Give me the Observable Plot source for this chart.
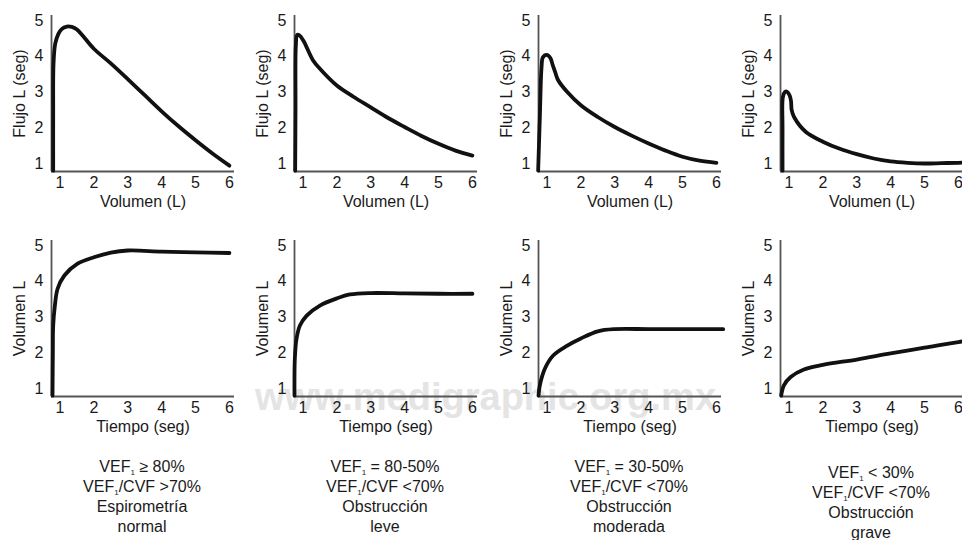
<!DOCTYPE html>
<html>
<head>
<meta charset="utf-8">
<script src="https://cdn.jsdelivr.net/npm/d3@7"></script>
<script src="https://cdn.jsdelivr.net/npm/@observablehq/plot@0.6"></script>
<style>
  html, body { margin: 0; padding: 0; background: #fff; }
  #root { position: relative; width: 962px; height: 540px; overflow: hidden; font-family: "Liberation Sans", Arial, sans-serif; }
  .panel { position: absolute; width: 243px; height: 215px; }
  .panel svg { max-width: none !important; }
  .caption { position: absolute; width: 240px; text-align: center; font-size: 16px; line-height: 20px; color: #1a1a1a; }
  .caption sub { font-size: 8px; vertical-align: -3px; line-height: 0; }
  .wm { position: absolute; left: 255px; top: 376px; font-size: 38px; font-weight: bold; color: #e4e4e4; white-space: nowrap; }
</style>
</head>
<body>
<div id="root">
  <div class="wm">www.medigraphic.org.mx</div>
</div>
<script>
// ---- Data ----
const xTicks = [1, 2, 3, 4, 5, 6];
const yTicks = [1, 2, 3, 4, 5];

// Flow–volume curves (x: Volumen L, y: Flujo L/seg)
const flowNormal = [[0.80,0.80],[0.80,2.4],[0.81,3.8],[0.86,4.35],[0.95,4.62],[1.05,4.76],[1.2,4.83],[1.35,4.82],[1.5,4.75],[2,4.21],[2.5,3.80],[3,3.36],[3.5,2.91],[4,2.46],[4.5,2.04],[5,1.65],[5.5,1.28],[6,0.94]];
const flowMild = [[0.77,0.80],[0.78,2.5],[0.79,4.3],[0.83,4.6],[0.9,4.58],[1.01,4.44],[1.3,3.88],[1.5,3.65],[2,3.18],[2.5,2.86],[3,2.57],[3.5,2.28],[4,2.02],[4.5,1.77],[5,1.55],[5.5,1.36],[6,1.22]];
const flowModerate = [[0.74,0.80],[0.79,2.3],[0.84,3.7],[0.88,3.97],[0.99,4.04],[1.1,3.95],[1.17,3.75],[1.24,3.56],[1.33,3.33],[1.6,3.0],[2,2.63],[2.5,2.3],[3,2.02],[3.5,1.78],[4,1.56],[4.5,1.36],[5,1.19],[5.5,1.08],[6,1.02]];
const flowSevere = [[0.81,0.80],[0.81,2.0],[0.82,2.86],[0.88,3.0],[0.94,3.01],[1.02,2.9],[1.06,2.75],[1.08,2.49],[1.15,2.30],[1.5,1.88],[2,1.61],[2.5,1.41],[3,1.26],[3.5,1.14],[4,1.06],[4.5,1.02],[5,1.0],[5.5,1.01],[6,1.02],[6.3,1.03]];

// Volume–time curves (x: Tiempo seg, y: Volumen L)
const volNormal = [[0.78,0.80],[0.79,2.0],[0.80,2.76],[0.85,3.32],[0.93,3.79],[1.13,4.16],[1.52,4.49],[2,4.67],[2.5,4.80],[3,4.86],[4,4.83],[5,4.81],[6,4.79]];
const volMild = [[0.75,0.80],[0.76,1.83],[0.81,2.39],[0.91,2.76],[1.11,3.04],[1.5,3.32],[2,3.52],[2.39,3.63],[3,3.67],[4,3.66],[5,3.65],[6,3.65]];
const volModerate = [[0.75,0.80],[0.79,1.09],[0.94,1.56],[1.19,1.93],[1.6,2.2],[2,2.40],[2.5,2.60],[3,2.66],[4,2.66],[5,2.66],[6,2.66],[6.2,2.66]];
const volSevere = [[0.77,0.80],[0.85,1.09],[1.05,1.32],[1.44,1.53],[2,1.66],[3,1.81],[4,1.98],[5,2.14],[6,2.30],[6.3,2.34]];

const xLabels = ["Volumen (L)", "Tiempo (seg)"];
const yLabels = ["Flujo L (seg)", "Volumen L"];

const captions = [
  ["VEF<sub>1</sub> ≥ 80%", "VEF<sub>1</sub>/CVF >70%", "Espirometría", "normal"],
  ["VEF<sub>1</sub> = 80-50%", "VEF<sub>1</sub>/CVF <70%", "Obstrucción", "leve"],
  ["VEF<sub>1</sub> = 30-50%", "VEF<sub>1</sub>/CVF <70%", "Obstrucción", "moderada"],
  ["VEF<sub>1</sub> < 30%", "VEF<sub>1</sub>/CVF <70%", "Obstrucción", "grave"]
];

const rows = [
  [flowNormal, flowMild, flowModerate, flowSevere],
  [volNormal, volMild, volModerate, volSevere]
];

// ---- Layout ----
const colLeft = [0, 243, 487, 729];
const rowTop = [0, 225];
const captionTop = [457, 457, 457, 463];
const xDomain = [0.75, 6.15];
const yDomain = [0.776, 5.14];

const root = document.getElementById("root");

rows.forEach((series, r) => {
  series.forEach((data, c) => {
    const chart = Plot.plot({
      width: 243,
      height: 215,
      marginLeft: 51,
      marginRight: 9,
      marginTop: 15,
      marginBottom: 44,
      x: {domain: xDomain, ticks: xTicks, tickFormat: d => String(d), tickSize: 0, tickPadding: 5, label: xLabels[r], labelAnchor: "center", labelOffset: 35, labelArrow: "none"},
      y: {domain: yDomain, ticks: yTicks, tickFormat: d => String(d), tickSize: 0, tickPadding: 8, label: yLabels[r], labelAnchor: "center", labelOffset: 38, labelArrow: "none"},
      style: {fontSize: "15px", fontFamily: "'Liberation Sans', Arial, sans-serif", color: "#1a1a1a", background: "transparent", overflow: "visible", maxWidth: "none"},
      marks: [
        Plot.ruleX([xDomain[0]], {stroke: "#555", strokeWidth: 1.8}),
        Plot.ruleY([yDomain[0]], {stroke: "#555", strokeWidth: 1.8}),
        Plot.line(data, {x: d => d[0], y: d => d[1], curve: "catmull-rom", stroke: "#111", strokeWidth: 3.8, strokeLinejoin: "round", strokeLinecap: "round"})
      ]
    });
    chart.style.fontSize = "16px";
    const div = document.createElement("div");
    div.className = "panel";
    div.style.left = colLeft[c] + "px";
    div.style.top = rowTop[r] + "px";
    div.appendChild(chart);
    root.appendChild(div);
  });
});

captions.forEach((lines, c) => {
  const div = document.createElement("div");
  div.className = "caption";
  div.style.left = (colLeft[c] + 142 - 120) + "px";
  div.style.top = captionTop[c] + "px";
  div.innerHTML = lines.join("<br>");
  root.appendChild(div);
});
</script>
</body>
</html>
